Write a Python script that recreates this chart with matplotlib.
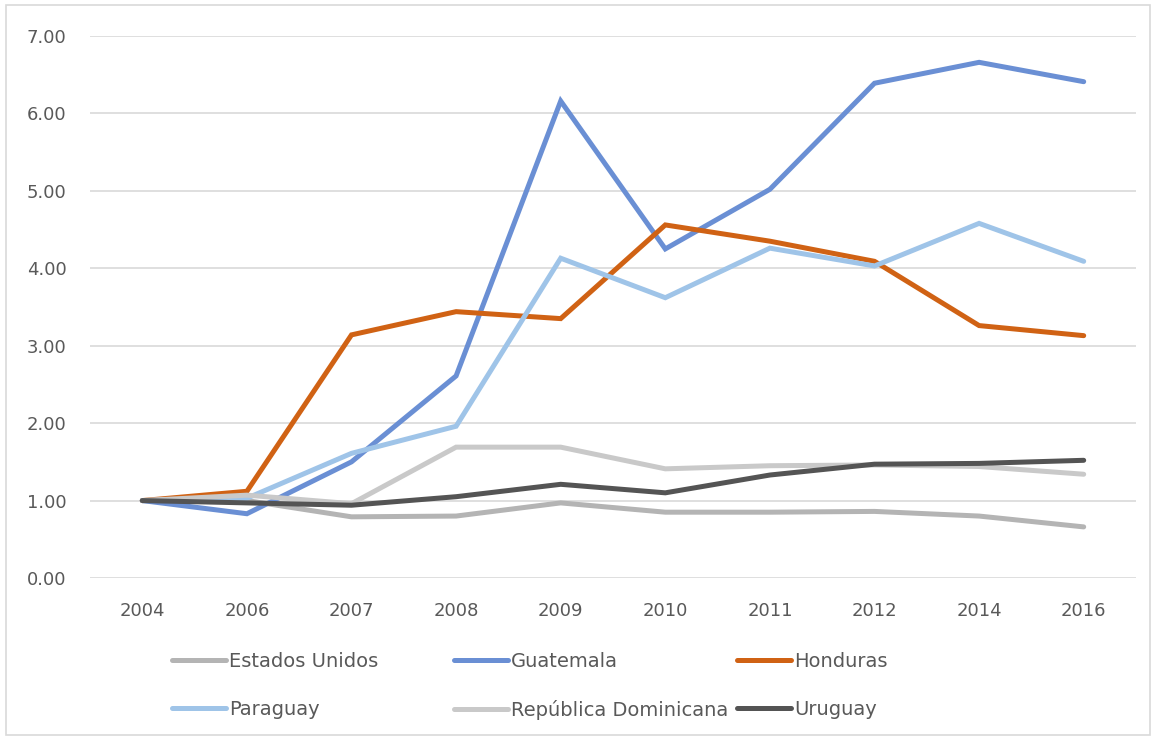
import matplotlib.pyplot as plt
from matplotlib.patches import Rectangle
import numpy as np

years = ['2004', '2006', '2007', '2008', '2009', '2010', '2011', '2012', '2014', '2016']

estados_unidos = [1.00, 1.00, 0.79, 0.80, 0.97, 0.85, 0.85, 0.86, 0.80, 0.66]
guatemala = [1.00, 0.83, 1.50, 2.61, 6.16, 4.25, 5.02, 6.39, 6.66, 6.41]
honduras = [1.00, 1.12, 3.14, 3.44, 3.35, 4.56, 4.35, 4.09, 3.26, 3.13]
paraguay = [1.00, 1.03, 1.61, 1.96, 4.13, 3.62, 4.26, 4.03, 4.58, 4.09]
rep_dominicana = [1.00, 1.07, 0.96, 1.69, 1.69, 1.41, 1.45, 1.46, 1.44, 1.34]
uruguay = [1.00, 0.97, 0.94, 1.05, 1.21, 1.10, 1.33, 1.47, 1.48, 1.52]

series_names = ['Estados Unidos', 'Guatemala', 'Honduras', 'Paraguay',
                'República Dominicana', 'Uruguay']
series_values = [estados_unidos, guatemala, honduras, paraguay, rep_dominicana, uruguay]
colors = ['#b4b4b4', '#6a8fd4', '#d06214', '#9fc4e8', '#c9c9c9', '#545454']

fig = plt.figure(figsize=(11.58, 7.38), dpi=100)
ax = fig.add_axes([90/1158, 1 - 578/738, (1136 - 90)/1158, (578 - 36)/738])

x = np.arange(len(years))
lines = []
for name, vals, c in zip(series_names, series_values, colors):
    ln, = ax.plot(x, vals, color=c, lw=3.6, solid_capstyle='round',
                  solid_joinstyle='miter', label=name)
    lines.append(ln)

ax.set_xlim(-0.5, len(years) - 0.5)
ax.set_ylim(0, 7)
ax.set_yticks(np.arange(0, 8, 1))
ax.set_yticklabels([f'{v:.2f}' for v in np.arange(0, 8, 1)])
ax.set_xticks(x)
ax.set_xticklabels(years)
ax.grid(axis='y', color='#d9d9d9', lw=1.2)
ax.set_axisbelow(True)
for s in ax.spines.values():
    s.set_visible(False)
ax.tick_params(axis='both', length=0, labelsize=13, colors='#595959')
ax.tick_params(axis='y', pad=17)
ax.tick_params(axis='x', pad=17)

# legend: three columns of equal width, like the original
col_x = [172/1158, 454/1158, 737/1158]
for i in range(3):
    hs = [lines[i], lines[i + 3]]
    fig.legend(handles=hs, labels=[h.get_label() for h in hs],
               loc='upper left', bbox_to_anchor=(col_x[i], 1 - 652/738),
               frameon=False, fontsize=14, labelcolor='#595959',
               handlelength=2.8, handletextpad=0.15, labelspacing=1.5,
               borderpad=0, borderaxespad=0)

fig.patches.append(Rectangle((6/1158, 3/738), 1144/1158, 730/738,
                             transform=fig.transFigure, fill=False,
                             edgecolor='#d9d9d9', lw=1.2))

fig.savefig('out.png', dpi=100)
